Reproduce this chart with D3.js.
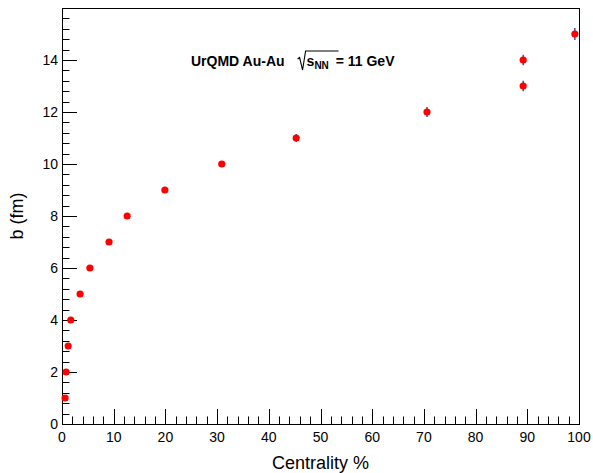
<!doctype html>
<html>
<head>
<script src="https://cdn.jsdelivr.net/npm/d3@7"></script>
<style>
    html, body { margin: 0; padding: 0; background: #fff; }
    svg { display: block; font-family: "Liberation Sans", Arial, sans-serif; }
</style>
</head>
<body>
<div id="viz"></div>
<script>
// centrality (%) vs impact parameter b (fm)
var centrality = [0.6, 0.8, 1.2, 1.7, 3.5, 5.4, 9.1, 12.6, 19.9, 30.9, 45.3, 70.6, 89.2, 89.2, 99.2];
var impactB = [1, 2, 3, 4, 5, 6, 7, 8, 9, 10, 11, 12, 13, 14, 15];
var bErr = [0.05, 0.05, 0.05, 0.05, 0.06, 0.07, 0.08, 0.09, 0.1, 0.12, 0.15, 0.19, 0.2, 0.2, 0.23];
var xTicks = [0, 10, 20, 30, 40, 50, 60, 70, 80, 90, 100];
var yTicks = [0, 2, 4, 6, 8, 10, 12, 14];

var W = 593, H = 473;
var margin = {left: 62, right: 14, top: 8, bottom: 49};

var svg = d3.select("#viz").append("svg")
    .attr("width", W)
    .attr("height", H);

var x = d3.scaleLinear().domain([0, 100]).range([margin.left, W - margin.right]);
var y = d3.scaleLinear().domain([0, 16]).range([H - margin.bottom, margin.top]);

var x0 = x(0), x1 = x(100), y0 = y(0), y1 = y(16);

// minor ticks
var xMinor = d3.range(0, 100.001, 2);
var yMinor = d3.range(0, 16.001, 0.4);

var g = svg.append("g").attr("stroke", "#000").attr("stroke-width", 1);

g.selectAll("line.xmin").data(xMinor).enter().append("line")
    .attr("x1", function (d) { return Math.round(x(d)) + 0.5; })
    .attr("x2", function (d) { return Math.round(x(d)) + 0.5; })
    .attr("y1", y0)
    .attr("y2", function (d) { return y0 - (d % 10 === 0 ? 15 : 7.5); });

g.selectAll("line.ymin").data(yMinor).enter().append("line")
    .attr("y1", function (d) { return Math.round(y(d)) + 0.5; })
    .attr("y2", function (d) { return Math.round(y(d)) + 0.5; })
    .attr("x1", x0)
    .attr("x2", function (d) { return x0 + (Math.abs(d / 2 - Math.round(d / 2)) < 1e-6 ? 15 : 7.5); });

// frame
svg.append("rect")
    .attr("x", Math.round(x0) + 0.5)
    .attr("y", Math.round(y1) + 0.5)
    .attr("width", Math.round(x1) - Math.round(x0))
    .attr("height", Math.round(y0) - Math.round(y1))
    .attr("fill", "none")
    .attr("stroke", "#000")
    .attr("stroke-width", 1);

// tick labels
svg.selectAll("text.xl").data(xTicks).enter().append("text")
    .attr("x", function (d) { return x(d); })
    .attr("y", y0 + 18)
    .attr("text-anchor", "middle")
    .attr("font-size", 14)
    .text(function (d) { return d; });

svg.selectAll("text.yl").data(yTicks).enter().append("text")
    .attr("x", x0 - 4)
    .attr("y", function (d) { return y(d) + 5; })
    .attr("text-anchor", "end")
    .attr("font-size", 14)
    .text(function (d) { return d; });

// axis titles
svg.append("text")
    .attr("x", (x0 + x1) / 2)
    .attr("y", 469)
    .attr("text-anchor", "middle")
    .attr("font-size", 18)
    .text("Centrality %");

svg.append("text")
    .attr("transform", "translate(23," + ((y0 + y1) / 2) + ") rotate(-90)")
    .attr("text-anchor", "middle")
    .attr("font-size", 18)
    .text("b (fm)");

// error bars
svg.selectAll("line.err").data(impactB).enter().append("line")
    .attr("x1", function (d, i) { return x(centrality[i]); })
    .attr("x2", function (d, i) { return x(centrality[i]); })
    .attr("y1", function (d, i) { return y(d - bErr[i]); })
    .attr("y2", function (d, i) { return y(d + bErr[i]); })
    .attr("stroke", "#1a1a8c")
    .attr("stroke-width", 1.2);

// markers
svg.selectAll("circle").data(impactB).enter().append("circle")
    .attr("cx", function (d, i) { return x(centrality[i]); })
    .attr("cy", function (d) { return y(d); })
    .attr("r", 3.6)
    .attr("fill", "#ff0000");

// label
var lab = svg.append("text")
    .attr("x", 191)
    .attr("y", 66)
    .attr("font-size", 14)
    .attr("font-weight", "bold");
lab.append("tspan").text("UrQMD Au-Au");
var lx = 191 + lab.node().getComputedTextLength() + 13;
// sqrt sign
svg.append("path")
    .attr("d", "M" + (lx) + ",59 L" + (lx + 2) + ",57.5 L" + (lx + 5) + ",70 L" + (lx + 8) + ",51 L" + (lx + 41) + ",51")
    .attr("fill", "none")
    .attr("stroke", "#000")
    .attr("stroke-width", 1.1);
var s = svg.append("text")
    .attr("x", lx + 9)
    .attr("y", 66)
    .attr("font-size", 14)
    .attr("font-weight", "bold");
s.append("tspan").text("s");
s.append("tspan").attr("font-size", 10).attr("dy", 3).text("NN");
s.append("tspan").attr("dy", -3).attr("dx", 3).text(" = 11 GeV");
</script>
</body>
</html>
